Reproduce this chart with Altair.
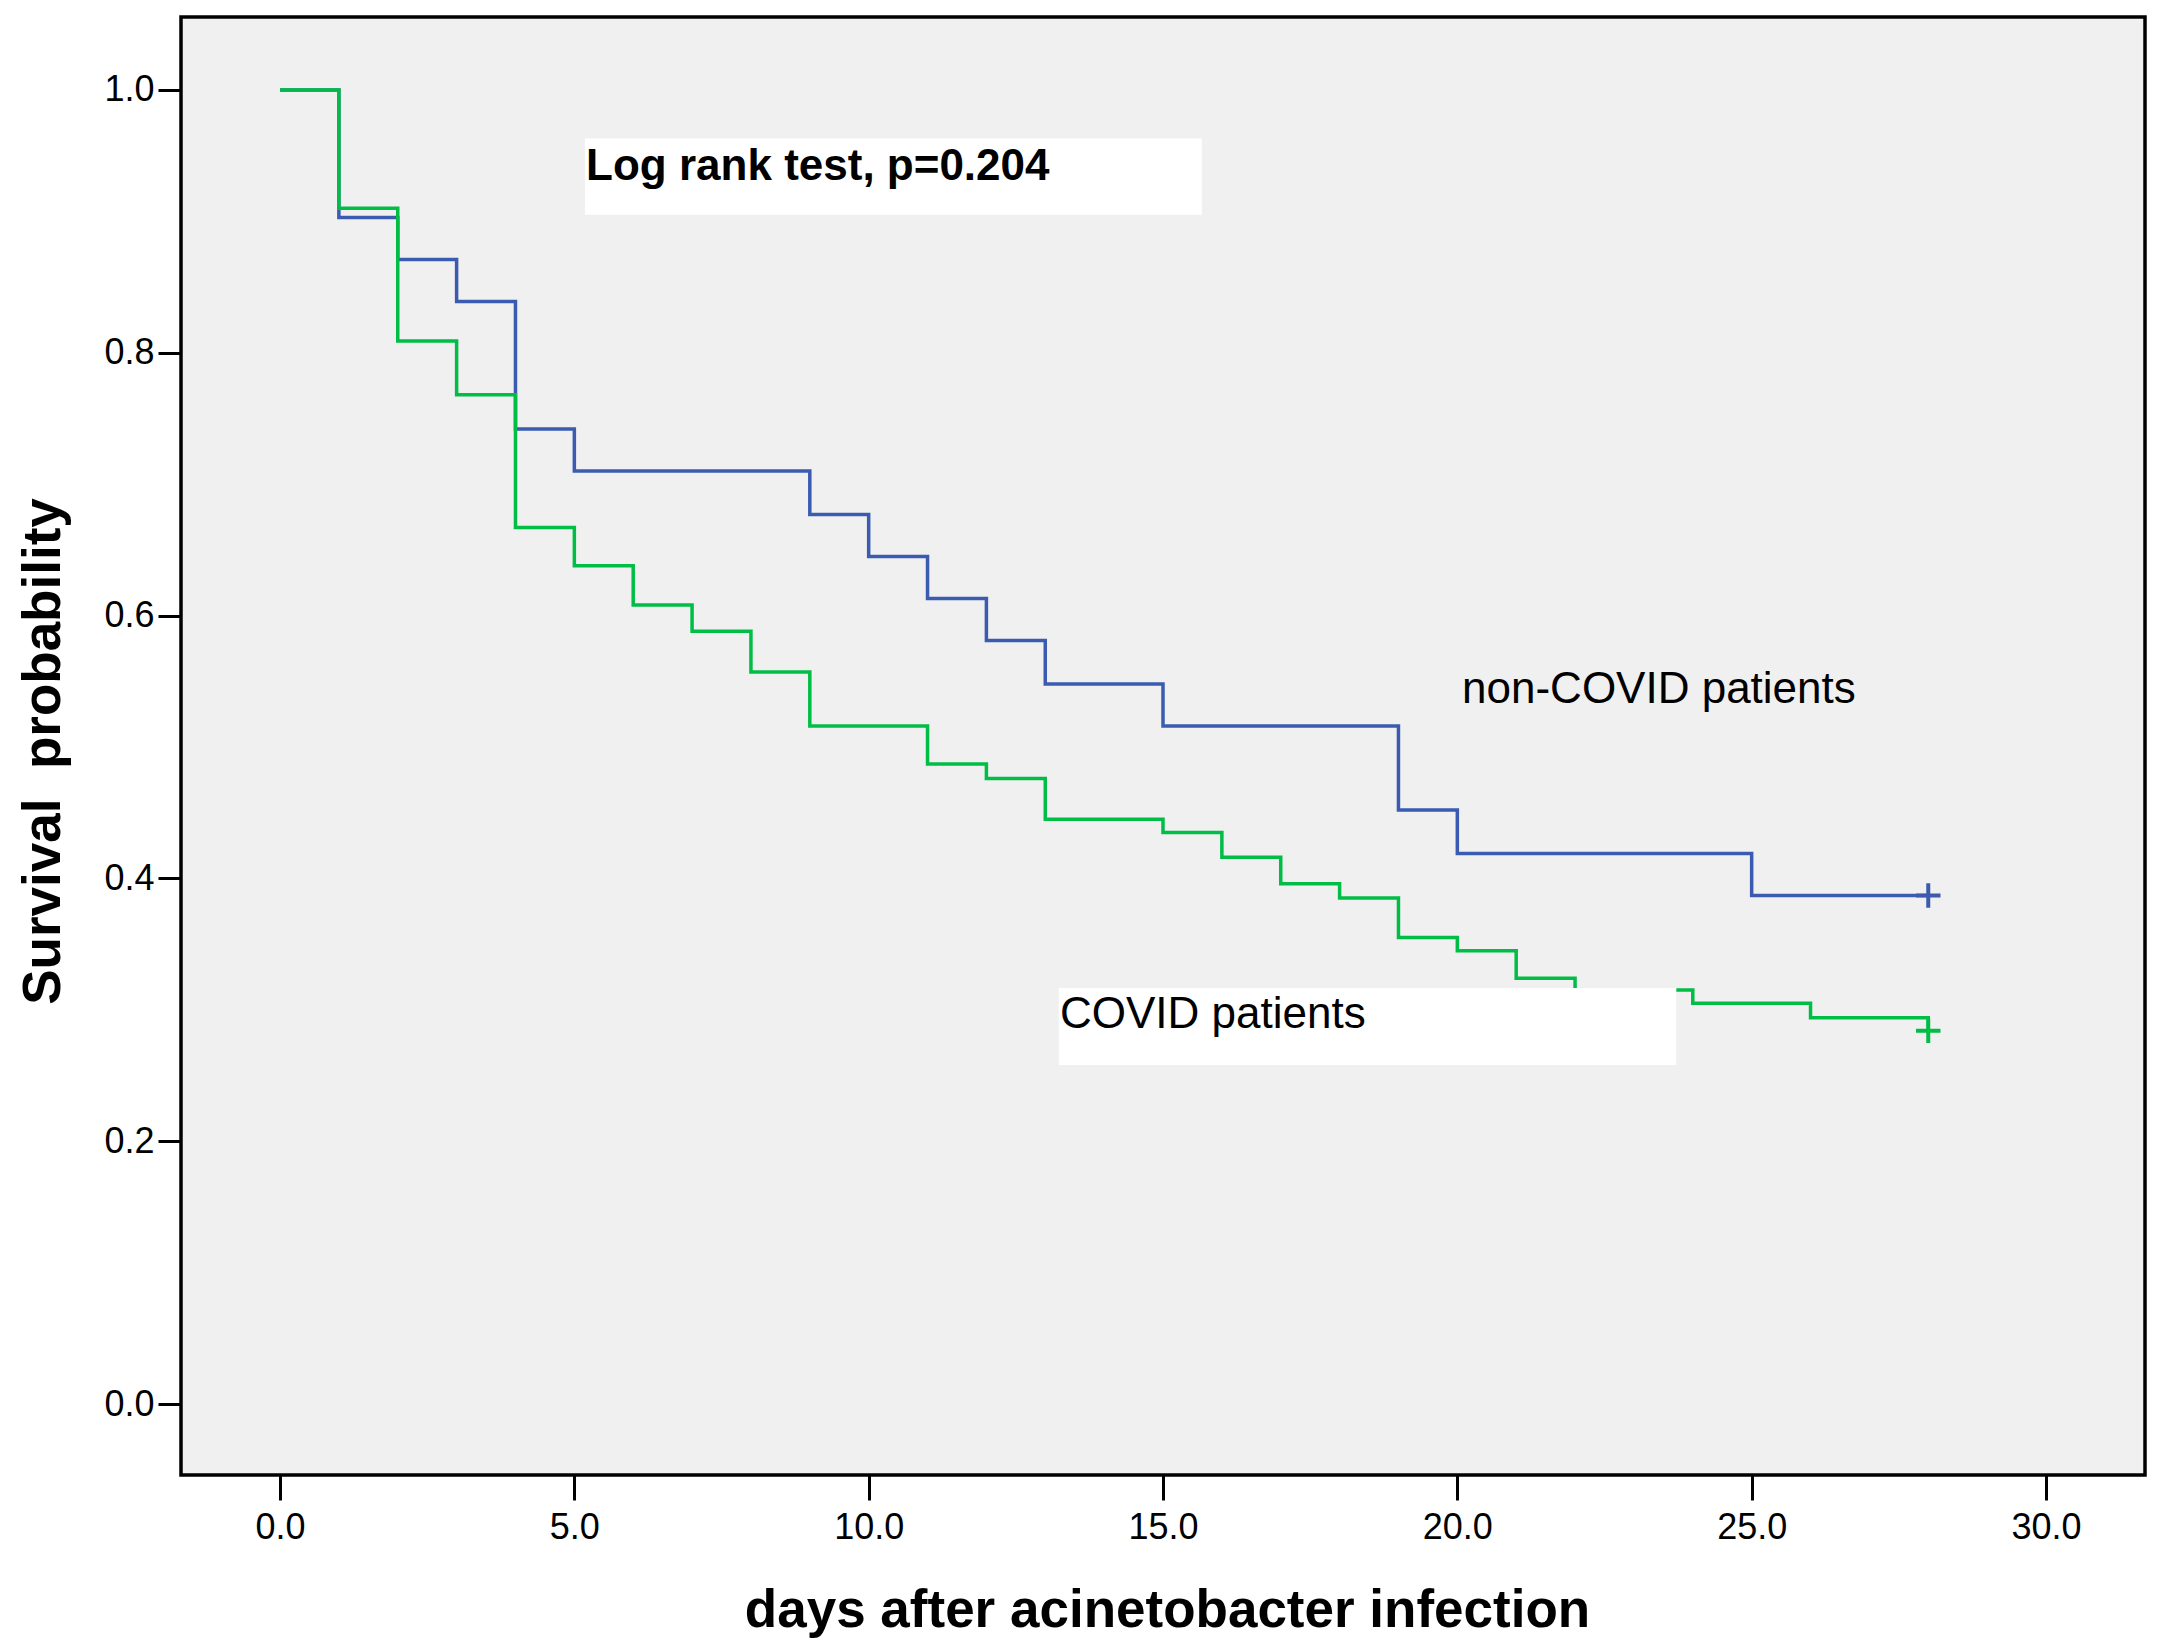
import altair as alt
import pandas as pd

# ---- data ----
blue_days = [0, 1, 2, 3, 4, 5, 9, 10, 11, 12, 13, 15, 19, 20, 25, 28]
blue_surv = [1.0, 0.903, 0.871, 0.839, 0.742, 0.710, 0.677, 0.645, 0.613, 0.581,
             0.548, 0.516, 0.452, 0.419, 0.387, 0.387]

green_days = [0, 1, 2, 3, 4, 5, 6, 7, 8, 9, 11, 12, 13, 15, 16, 17, 18, 19, 20,
              21, 22, 24, 26, 28]
green_surv = [1.0, 0.910, 0.809, 0.768, 0.667, 0.638, 0.608, 0.588, 0.557, 0.516,
              0.487, 0.476, 0.445, 0.435, 0.416, 0.396, 0.385, 0.355, 0.345,
              0.324, 0.315, 0.305, 0.294, 0.284]

censor_group = ["non-COVID", "COVID"]
censor_days = [28, 28]
censor_surv = [0.387, 0.284]

x_ticks = [0, 5, 10, 15, 20, 25, 30]
y_ticks = [0.0, 0.2, 0.4, 0.6, 0.8, 1.0]

# annotations (data units)
box_x1 = [5.18, 13.23]
box_x2 = [15.66, 23.72]
box_y1 = [0.905, 0.258]
box_y2 = [0.963, 0.3166]

label_text = ["Log rank test, p=0.204", "non-COVID patients", "COVID patients"]
label_x = [5.2, 20.08, 13.25]
label_y = [0.9315, 0.5335, 0.286]
label_weight = ["bold", "normal", "normal"]

groups = ["non-COVID", "COVID"]
colors = ["#3A5BB0", "#00BD45"]

# ---- tables ----
curves = pd.concat([
    pd.DataFrame({"day": blue_days, "surv": blue_surv, "group": "non-COVID"}),
    pd.DataFrame({"day": green_days, "surv": green_surv, "group": "COVID"}),
])
censors = pd.DataFrame({"day": censor_days, "surv": censor_surv, "group": censor_group})
boxes = pd.DataFrame({"x1": box_x1, "x2": box_x2, "y1": box_y1, "y2": box_y2})
labels = pd.DataFrame({"t": label_text, "x": label_x, "y": label_y, "w": label_weight})

FONT = "Liberation Sans, Arial, Helvetica, sans-serif"
NARROW = "Liberation Sans Narrow, Arial Narrow, Liberation Sans, Arial, sans-serif"

xscale = alt.Scale(domain=[-1.682, 31.682], nice=False, zero=False)
yscale = alt.Scale(domain=[-0.054, 1.0555], nice=False, zero=False)
cscale = alt.Scale(domain=groups, range=colors)

XTITLE = "days after acinetobacter infection"
YTITLE = "Survival\u00a0 probability"

xaxis = alt.Axis(values=x_ticks, format=".1f", tickSize=25, tickWidth=3, tickColor="black",
                 labelPadding=10, labelFontSize=36, labelFont=NARROW, labelColor="black",
                 domain=False, grid=False,
                 title=XTITLE, titleFont=FONT, titleFontSize=53,
                 titleFontWeight="bold", titleColor="black", titleX=986, titleY=151,
                 titleAlign="center", titleBaseline="alphabetic")
yaxis = alt.Axis(values=y_ticks, format=".1f", tickSize=23, tickWidth=3, tickColor="black",
                 labelPadding=4, labelFontSize=36, labelFont=NARROW, labelColor="black",
                 labelBaseline="middle",
                 domain=False, grid=False,
                 title=YTITLE, titleFont=FONT, titleFontSize=53,
                 titleFontWeight="bold", titleColor="black", titleX=-122, titleY=734,
                 titleAngle=270, titleAlign="center", titleBaseline="alphabetic")

lines = alt.Chart(curves).mark_line(interpolate="step-after", strokeWidth=3.5).encode(
    x=alt.X("day:Q", scale=xscale, axis=xaxis, title=XTITLE),
    y=alt.Y("surv:Q", scale=yscale, axis=yaxis, title=YTITLE),
    color=alt.Color("group:N", scale=cscale, legend=None),
    detail="group:N",
)

marks = alt.Chart(censors).mark_point(
    shape="M-1,0L1,0M0,-1L0,1", size=600, strokeWidth=4, filled=False, opacity=1
).encode(
    x=alt.X("day:Q", scale=xscale, axis=xaxis, title=XTITLE),
    y=alt.Y("surv:Q", scale=yscale, axis=yaxis, title=YTITLE),
    color=alt.Color("group:N", scale=cscale, legend=None),
)

rects = alt.Chart(boxes).mark_rect(color="white").encode(
    x=alt.X("x1:Q", scale=xscale, axis=xaxis, title=XTITLE),
    x2="x2:Q",
    y=alt.Y("y1:Q", scale=yscale, axis=yaxis, title=YTITLE),
    y2="y2:Q",
)

bold_txt = alt.Chart(labels[labels.w == "bold"]).mark_text(
    align="left", baseline="alphabetic", font=FONT, fontSize=44, fontWeight="bold", color="black"
).encode(
    x=alt.X("x:Q", scale=xscale, axis=xaxis, title=XTITLE),
    y=alt.Y("y:Q", scale=yscale, axis=yaxis, title=YTITLE),
    text="t:N",
)
reg_txt = alt.Chart(labels[labels.w == "normal"]).mark_text(
    align="left", baseline="alphabetic", font=FONT, fontSize=44, color="black"
).encode(
    x=alt.X("x:Q", scale=xscale, axis=xaxis, title=XTITLE),
    y=alt.Y("y:Q", scale=yscale, axis=yaxis, title=YTITLE),
    text="t:N",
)

chart = alt.layer(lines, marks, rects, bold_txt, reg_txt).properties(
    width=1964, height=1458,
    padding={"left": 173, "top": 9, "right": 10, "bottom": 165},
    autosize=alt.AutoSizeParams(type="none"),
    background="white",
).configure_view(fill="#F0F0F0", stroke="black", strokeWidth=3.5)

chart.save("out.html", embed_options={"renderer": "svg", "actions": False})
